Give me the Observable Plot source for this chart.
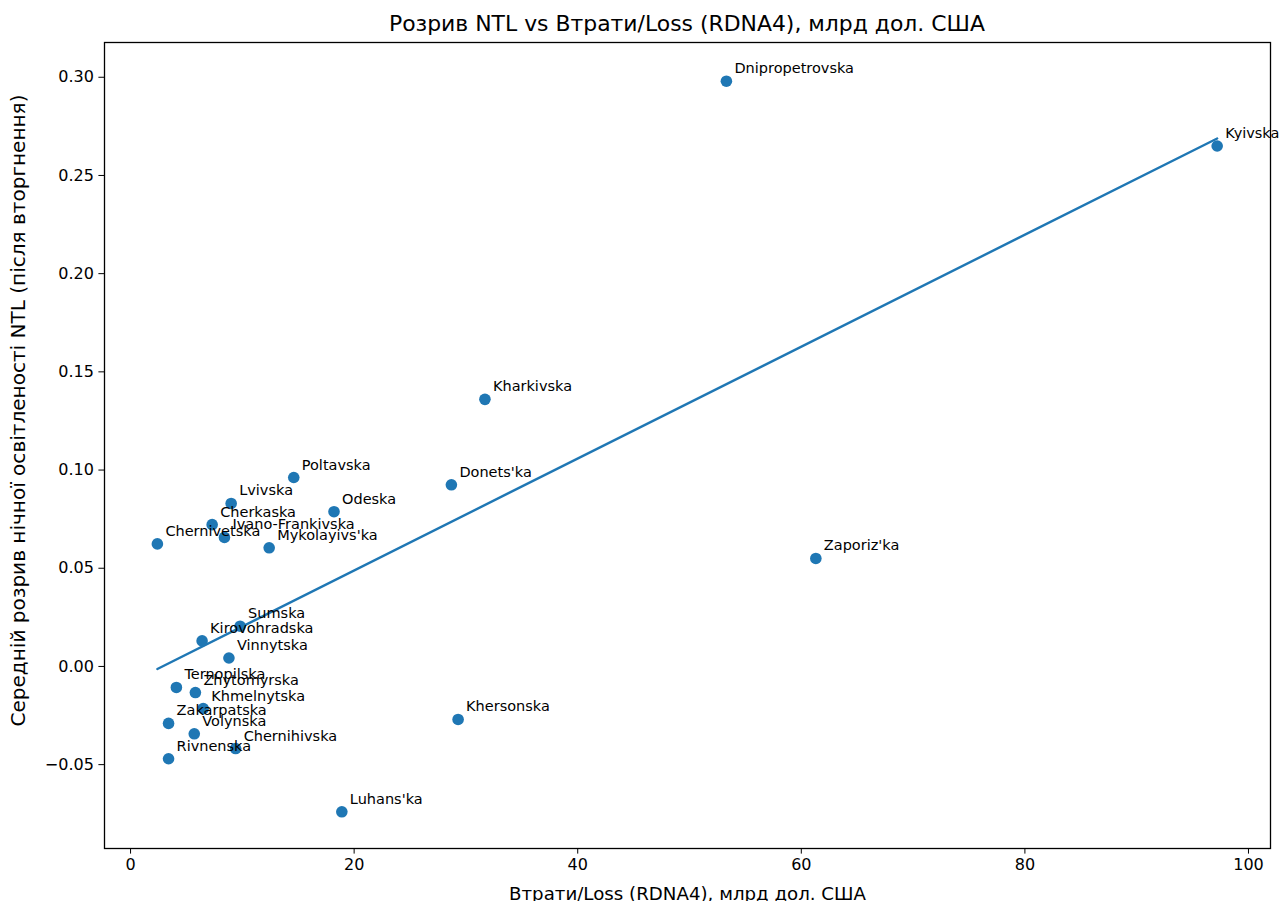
<!DOCTYPE html>
<html>
<head>
<meta charset="utf-8">
<script src="https://cdn.jsdelivr.net/npm/d3@7"></script>
<script src="https://cdn.jsdelivr.net/npm/@observablehq/plot@0.6"></script>
<style>
  html, body { margin: 0; padding: 0; background: #fff; }
  body { width: 1279px; height: 901px; overflow: hidden; font-family: "DejaVu Sans", sans-serif; }
  #title { position: relative; height: 36px; }
  #title span { position: absolute; left: 104px; width: 1166px; top: 14px; text-align: center;
    font-size: 20.5px; line-height: 1; color: #000; white-space: nowrap; }
  #title span b { font-weight: normal; display: inline-block; transform-origin: 50% 50%; }
  svg { display: block; }
</style>
</head>
<body>
<div id="title"><span><b id="titleText">Розрив NTL vs Втрати/Loss (RDNA4), млрд дол. США</b></span></div>
<div id="chart"></div>
<script>
const regions = ["Dnipropetrovska", "Kyivska", "Kharkivska", "Poltavska", "Donets'ka", "Lvivska",
  "Odeska", "Cherkaska", "Ivano-Frankivska", "Chernivetska", "Mykolayivs'ka", "Zaporiz'ka",
  "Sumska", "Kirovohradska", "Vinnytska", "Ternopilska", "Zhytomyrska", "Khmelnytska",
  "Zakarpatska", "Volynska", "Khersonska", "Chernihivska", "Rivnenska", "Luhans'ka"];
const losses = [53.3, 97.2, 31.7, 14.6, 28.7, 9.0,
  18.2, 7.3, 8.4, 2.4, 12.4, 61.3,
  9.8, 6.4, 8.8, 4.1, 5.8, 6.5,
  3.4, 5.7, 29.3, 9.4, 3.4, 18.9];
const ntlGap = [0.298, 0.265, 0.136, 0.0962, 0.0925, 0.0830,
  0.0788, 0.0722, 0.0657, 0.0624, 0.0604, 0.0550,
  0.0205, 0.0130, 0.0043, -0.0107, -0.0133, -0.0215,
  -0.0290, -0.0343, -0.0270, -0.0418, -0.0470, -0.0740];
const xTicks = [0, 20, 40, 60, 80, 100];
const yTicks = [-0.05, 0.00, 0.05, 0.10, 0.15, 0.20, 0.25, 0.30];
const xLabel = "Втрати/Loss (RDNA4), млрд дол. США";
const yLabel = "Середній розрив нічної освітленості NTL (після вторгнення)";

const data = regions.map((name, i) => ({name, loss: losses[i], gap: ntlGap[i]}));
const blue = "#1f77b4";

const chart = Plot.plot({
  width: 1279,
  height: 865,
  marginTop: 6,
  marginLeft: 104,
  marginRight: 9,
  marginBottom: 53,
  style: {fontFamily: "DejaVu Sans, sans-serif", fontSize: "16px", color: "#000", background: "#fff"},
  x: {domain: [-2.33, 101.97], ticks: xTicks},
  y: {domain: [-0.0927, 0.3177], ticks: yTicks},
  marks: [
    Plot.linearRegressionY(data, {x: "loss", y: "gap", ci: 0, stroke: blue, strokeWidth: 2.4}),
    Plot.dot(data, {x: "loss", y: "gap", r: 5.8, fill: blue, stroke: null}),
    Plot.text(data, {x: "loss", y: "gap", text: "name", textAnchor: "start", lineAnchor: "bottom",
      dx: 8, dy: -8, fontSize: 14.5, fill: "#000"}),
    Plot.axisX(xTicks, {tickSize: 5.6, tickPadding: 5, tickFormat: d => String(d), label: null, fontSize: 16}),
    Plot.axisY(yTicks, {tickSize: 5.6, tickPadding: 5, tickFormat: d => d.toFixed(2).replace("-", "\u2212"), label: null, fontSize: 16}),
    Plot.frame({stroke: "#000", strokeWidth: 1.3}),
    Plot.text([xLabel], {frameAnchor: "bottom", textAnchor: "middle", lineAnchor: "bottom", dy: 51, fontSize: 18, fill: "#000"}),
    Plot.text([yLabel], {frameAnchor: "left", textAnchor: "middle", rotate: -90, lineAnchor: "middle", dx: -86, dy: -35, fontSize: 19, fill: "#000"})
  ]
});
document.getElementById("chart").appendChild(chart);

// fit label lengths to the reference
chart.querySelectorAll("text").forEach(t => {
  if (t.textContent === xLabel) { t.setAttribute("textLength", 357); t.setAttribute("lengthAdjust", "spacingAndGlyphs"); }
  if (t.textContent === yLabel) { t.setAttribute("textLength", 632); t.setAttribute("lengthAdjust", "spacingAndGlyphs"); }
});
const tt = document.getElementById("titleText");
const w = tt.getBoundingClientRect().width;
if (w > 0) tt.style.transform = `scaleX(${596 / w})`;
</script>
</body>
</html>
